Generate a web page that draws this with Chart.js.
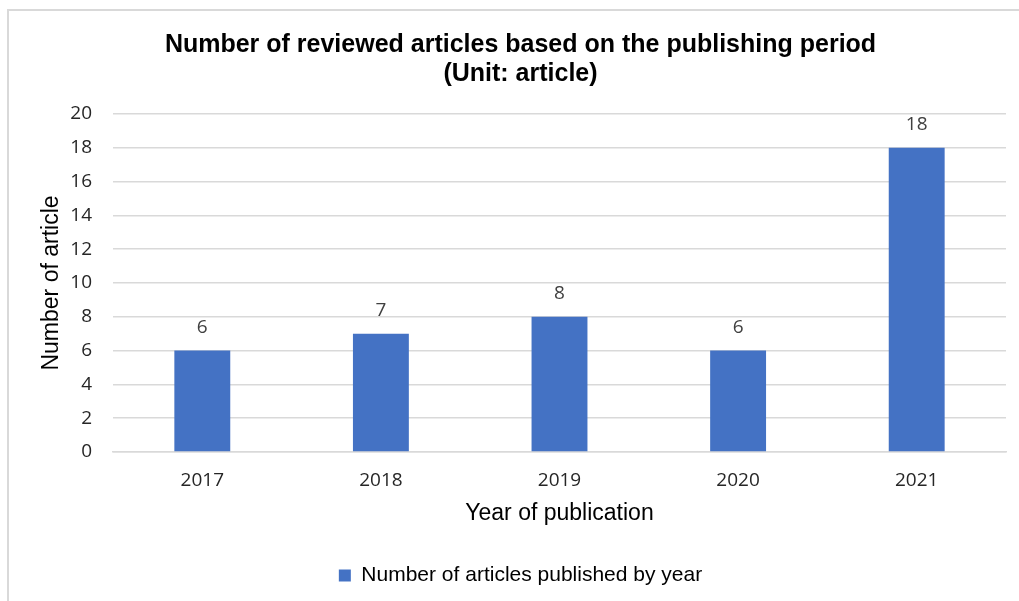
<!DOCTYPE html>
<html>
<head>
<meta charset="utf-8">
<script src="https://cdn.jsdelivr.net/npm/chart.js@4/dist/chart.umd.min.js"></script>
<style>
  html, body { margin: 0; padding: 0; background: #fff; }
  #wrap { width: 1019px; height: 601px; position: relative; }
</style>
</head>
<body>
<div id="wrap"><canvas id="barChart"></canvas></div>
<script>
const years = ["2017", "2018", "2019", "2020", "2021"];
const articleCounts = [6, 7, 8, 6, 18];
const yTicks = [0, 2, 4, 6, 8, 10, 12, 14, 16, 18, 20];

const barColor = "#4472C4";
const gridColor = "#d9d9d9";

// outer chart frame, like the spreadsheet chart box
const framePlugin = {
    id: "frame",
    beforeDraw(chart) {
        const ctx = chart.ctx;
        ctx.save();
        ctx.fillStyle = "#fff";
        ctx.fillRect(0, 0, chart.width, chart.height);
        ctx.strokeStyle = gridColor;
        ctx.lineWidth = 2;
        ctx.strokeRect(8, 10, chart.width + 20, chart.height + 20);
        ctx.restore();
    },
};

// value labels above the bars
const valueLabels = {
    id: "valueLabels",
    afterDatasetsDraw(chart) {
        const ctx = chart.ctx;
        ctx.save();
        ctx.font = "19px 'Open Sans'";
        ctx.fillStyle = "#404040";
        ctx.textAlign = "center";
        ctx.textBaseline = "middle";
        chart.getDatasetMeta(0).data.forEach(function (bar, i) {
            ctx.fillText(String(articleCounts[i]), bar.x, bar.y - 23);
        });
        ctx.restore();
    },
};

const ctx = document.getElementById("barChart");
new Chart(ctx, {
    type: "bar",
    data: {
        labels: years,
        datasets: [
            {
                label: "Number of articles published by year",
                data: articleCounts,
                backgroundColor: barColor,
                borderWidth: 0,
                barPercentage: 0.313,
                categoryPercentage: 1,
            },
        ],
    },
    options: {
        responsive: true,
        maintainAspectRatio: false,
        animation: false,
        layout: {
            padding: { left: 35, right: 13, top: 0, bottom: 5 },
        },
        scales: {
            x: {
                grid: { display: false, drawTicks: false },
                border: { display: true, color: gridColor, width: 1.5 },
                ticks: {
                    color: "#262626",
                    font: { family: "'Open Sans'", size: 19 },
                    padding: 17,
                },
                title: {
                    display: true,
                    text: "Year of publication",
                    color: "#000",
                    font: { family: "'Liberation Sans', Arial", size: 23 },
                    padding: { top: 0, bottom: 28 },
                },
                afterFit(scale) {
                    scale.height = 103;
                },
            },
            y: {
                min: 0,
                max: 20,
                grid: { color: gridColor, lineWidth: 1.5, drawTicks: false },
                border: { display: false },
                ticks: {
                    stepSize: 2,
                    color: "#262626",
                    font: { family: "'Open Sans'", size: 19 },
                    padding: 21,
                    callback: function (value) {
                        return yTicks.includes(value) ? String(value) : "";
                    },
                },
                title: {
                    display: true,
                    text: "Number of article",
                    color: "#000",
                    font: { family: "'Liberation Sans', Arial", size: 23 },
                    padding: { top: 3, bottom: 0 },
                },
                afterFit(scale) {
                    scale.width = 78;
                },
            },
        },
        plugins: {
            title: {
                display: true,
                text: [
                    "Number of reviewed articles based on the publishing period",
                    "(Unit: article)",
                ],
                color: "#000",
                font: { family: "'Liberation Sans', Arial", size: 25, weight: "bold", lineHeight: 1.16 },
                padding: { top: 31, bottom: 25 },
            },
            legend: {
                position: "bottom",
                labels: {
                    boxWidth: 12,
                    boxHeight: 12,
                    padding: 10,
                    color: "#000",
                    font: { family: "'Liberation Sans', Arial", size: 21 },
                },
            },
            tooltip: { enabled: false },
        },
    },
    plugins: [framePlugin, valueLabels],
});
</script>
</body>
</html>
